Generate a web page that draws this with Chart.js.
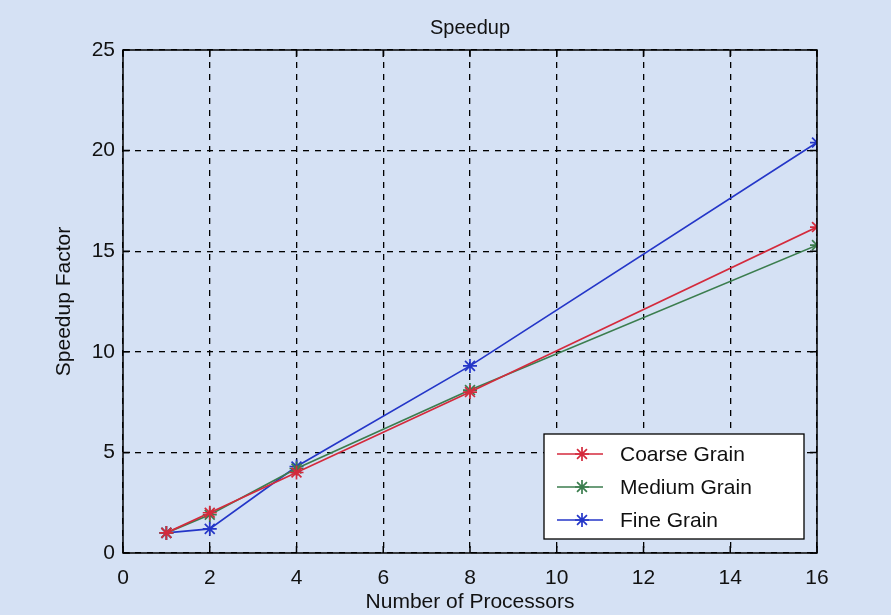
<!DOCTYPE html>
<html>
<head>
<meta charset="utf-8">
<script src="https://cdn.jsdelivr.net/npm/chart.js@4"></script>
<style>
  html, body { margin: 0; padding: 0; background: #d5e1f4; }
  #wrap { width: 891px; height: 615px; }
</style>
</head>
<body>
<div id="wrap"><canvas id="speedupChart" width="891" height="615"></canvas></div>
<script>
const processors = [1, 2, 4, 8, 16];
const coarseGrain = [1, 2.0, 4.0, 8.0, 16.2];
const mediumGrain = [1, 1.9, 4.2, 8.1, 15.3];
const fineGrain = [1, 1.2, 4.3, 9.3, 20.4];
const xTicks = [0, 2, 4, 6, 8, 10, 12, 14, 16];
const yTicks = [0, 5, 10, 15, 20, 25];

const FONT = '"Liberation Sans", Arial, Helvetica, sans-serif';

function toPoints(vals) {
  return processors.map((p, i) => ({ x: p, y: vals[i] }));
}

function series(label, vals, color) {
  return {
    label,
    data: toPoints(vals),
    borderColor: color,
    backgroundColor: color,
    borderWidth: 1.7,
    pointStyle: 'star',
    pointRadius: 7,
    pointBorderWidth: 1.7,
    tension: 0
  };
}

// box, inner ticks, title and legend the way matlab draws them
const matlabFrame = {
  id: 'matlabFrame',
  afterDraw(chart) {
    const { ctx, chartArea: a, scales } = chart;
    ctx.save();
    ctx.strokeStyle = '#000';
    ctx.lineWidth = 1.5;
    ctx.setLineDash([]);
    ctx.strokeRect(a.left, a.top, a.right - a.left, a.bottom - a.top);
    xTicks.forEach(v => {
      const px = scales.x.getPixelForValue(v);
      ctx.beginPath();
      ctx.moveTo(px, a.bottom); ctx.lineTo(px, a.bottom - 7);
      ctx.moveTo(px, a.top); ctx.lineTo(px, a.top + 7);
      ctx.stroke();
    });
    yTicks.forEach(v => {
      const py = scales.y.getPixelForValue(v);
      ctx.beginPath();
      ctx.moveTo(a.left, py); ctx.lineTo(a.left + 7, py);
      ctx.moveTo(a.right, py); ctx.lineTo(a.right - 7, py);
      ctx.stroke();
    });

    // title
    ctx.fillStyle = '#111';
    ctx.font = '20px ' + FONT;
    ctx.textAlign = 'center';
    ctx.textBaseline = 'middle';
    ctx.fillText('Speedup', (a.left + a.right) / 2, 28);

    // legend
    const bx = 544, by = 434, bw = 260, bh = 105;
    ctx.fillStyle = '#fff';
    ctx.fillRect(bx, by, bw, bh);
    ctx.lineWidth = 1.3;
    ctx.strokeRect(bx, by, bw, bh);
    ctx.font = '21px ' + FONT;
    ctx.textAlign = 'left';
    chart.data.datasets.forEach((ds, i) => {
      const y = by + 20 + i * 33;
      ctx.strokeStyle = ds.borderColor;
      ctx.lineWidth = 1.7;
      ctx.beginPath();
      ctx.moveTo(557, y); ctx.lineTo(603, y);
      ctx.stroke();
      // asterisk marker
      ctx.beginPath();
      for (let k = 0; k < 4; k++) {
        const ang = k * Math.PI / 4;
        ctx.moveTo(582 - 7 * Math.cos(ang), y - 7 * Math.sin(ang));
        ctx.lineTo(582 + 7 * Math.cos(ang), y + 7 * Math.sin(ang));
      }
      ctx.stroke();
      ctx.fillStyle = '#111';
      ctx.fillText(ds.label, 620, y + 1);
    });
    ctx.restore();
  }
};

const ctx = document.getElementById('speedupChart').getContext('2d');
new Chart(ctx, {
  type: 'line',
  data: {
    datasets: [
      series('Coarse Grain', coarseGrain, '#d42a3c'),
      series('Medium Grain', mediumGrain, '#3b7d4e'),
      series('Fine Grain', fineGrain, '#2436c8')
    ]
  },
  options: {
    responsive: false,
    animation: false,
    layout: { padding: { top: 50, right: 74, left: 0, bottom: 0 } },
    plugins: {
      legend: { display: false },
      title: { display: false },
      tooltip: { enabled: false }
    },
    scales: {
      x: {
        type: 'linear',
        min: 0,
        max: 16,
        afterFit: s => { s.height = 62; },
        afterBuildTicks: s => { s.ticks = xTicks.map(v => ({ value: v })); },
        grid: { color: '#000', lineWidth: 1.3, drawTicks: false },
        border: { display: false, dash: [6, 6] },
        ticks: { color: '#111', font: { family: FONT, size: 21 }, padding: 13, maxRotation: 0 },
        title: {
          display: true,
          text: 'Number of Processors',
          color: '#111',
          font: { family: FONT, size: 21 },
          padding: { top: -15, bottom: 0 }
        }
      },
      y: {
        type: 'linear',
        min: 0,
        max: 25,
        afterFit: s => { s.width = 123; },
        afterBuildTicks: s => { s.ticks = yTicks.map(v => ({ value: v })); },
        grid: { color: '#000', lineWidth: 1.3, drawTicks: false },
        border: { display: false, dash: [6, 6] },
        ticks: { color: '#111', font: { family: FONT, size: 21 }, padding: 8 },
        title: {
          display: true,
          text: 'Speedup Factor',
          color: '#111',
          font: { family: FONT, size: 21 },
          padding: { top: 52, bottom: 0 }
        }
      }
    }
  },
  plugins: [matlabFrame]
});
</script>
</body>
</html>
